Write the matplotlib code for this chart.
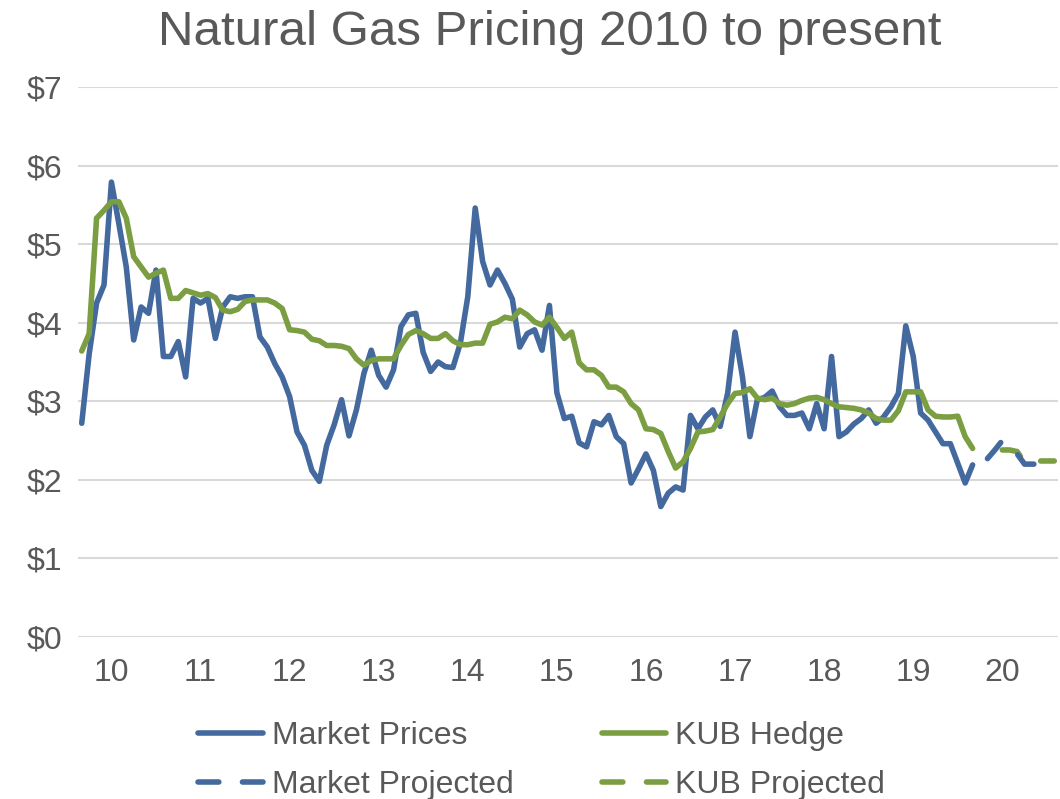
import numpy as np
import matplotlib
matplotlib.use('Agg')
import matplotlib.pyplot as plt
import pandas as pd

plt.rcParams['font.family'] = ['Liberation Sans', 'DejaVu Sans']
plt.rcParams['lines.scale_dashes'] = False

# monthly prices, $/Dth, Sep 2009 - Sep 2019
market_prices = [
    2.72, 3.60, 4.25, 4.48, 5.79, 5.26, 4.71, 3.78, 4.20, 4.12, 4.67, 3.57,
    3.57, 3.76, 3.31, 4.31, 4.25, 4.31, 3.80, 4.20, 4.33, 4.31, 4.33, 4.33,
    3.82, 3.69, 3.48, 3.31, 3.06, 2.61, 2.44, 2.12, 1.98, 2.44, 2.70, 3.02,
    2.56, 2.89, 3.35, 3.65, 3.33, 3.18, 3.40, 3.95, 4.10, 4.12, 3.62, 3.38,
    3.50, 3.44, 3.43, 3.74, 4.33, 5.46, 4.78, 4.48, 4.67, 4.50, 4.30, 3.69,
    3.86, 3.91, 3.65, 4.22, 3.11, 2.78, 2.81, 2.47, 2.42, 2.74, 2.70, 2.82,
    2.55, 2.46, 1.96, 2.14, 2.33, 2.12, 1.66, 1.83, 1.91, 1.87, 2.82, 2.65,
    2.80, 2.89, 2.68, 3.10, 3.88, 3.31, 2.55, 3.02, 3.05, 3.13, 2.93, 2.82,
    2.82, 2.85, 2.65, 2.97, 2.65, 3.57, 2.55, 2.61, 2.71, 2.78, 2.89, 2.72,
    2.80, 2.93, 3.10, 3.96, 3.57, 2.85, 2.76, 2.61, 2.46, 2.46, 2.21, 1.96,
    2.19,
]
kub_hedge = [
    3.64, 3.86, 5.33, 5.43, 5.54, 5.54, 5.33, 4.84, 4.71, 4.58, 4.63, 4.67,
    4.31, 4.31, 4.41, 4.38, 4.35, 4.37, 4.32, 4.16, 4.14, 4.17, 4.27, 4.29,
    4.29, 4.29, 4.25, 4.18, 3.91, 3.90, 3.88, 3.79, 3.77, 3.71, 3.71, 3.70,
    3.67, 3.54, 3.46, 3.52, 3.54, 3.54, 3.54, 3.71, 3.85, 3.90, 3.86, 3.80,
    3.80, 3.86, 3.77, 3.72, 3.72, 3.74, 3.74, 3.98, 4.01, 4.07, 4.05, 4.16,
    4.10, 4.01, 3.97, 4.07, 3.94, 3.80, 3.88, 3.49, 3.40, 3.40, 3.33, 3.18,
    3.18, 3.12, 2.97, 2.89, 2.65, 2.64, 2.59, 2.36, 2.15, 2.23, 2.40, 2.61,
    2.62, 2.64, 2.80, 2.97, 3.10, 3.11, 3.16, 3.04, 3.02, 3.04, 2.97, 2.95,
    2.97, 3.01, 3.04, 3.05, 3.02, 2.97, 2.93, 2.92, 2.91, 2.89, 2.85, 2.78,
    2.76, 2.76, 2.88, 3.12, 3.12, 3.12, 2.89, 2.81, 2.80, 2.80, 2.81, 2.55,
    2.40,
]
# projections
market_projected = [2.27, 2.38, 2.50, 2.42, 2.33, 2.20, 2.20, 2.20]   # from Nov 2019
kub_projected = [2.38, 2.38, 2.36, 2.22, 2.23, 2.24, 2.24, 2.24]      # from Jan 2020

first_month = '2009-09'
market_proj_from = '2019-11'
kub_proj_from = '2020-01'
n_months = 132

months = pd.period_range(first_month, periods=n_months, freq='M')
x_all = np.arange(n_months)
pm = (pd.Period(market_proj_from, 'M') - pd.Period(first_month, 'M')).n
pk = (pd.Period(kub_proj_from, 'M') - pd.Period(first_month, 'M')).n

blue = '#44699E'
green = '#7A9E41'
grey = '#595959'

fig = plt.figure(figsize=(10.6, 7.99), dpi=100)
ax = fig.add_axes([0.0736, 0.2028, 0.9245, 0.6883])

lw = 4.0
dash = (0, (15, 17))
h1, = ax.plot(x_all[:len(market_prices)], market_prices, color=blue, lw=lw,
              solid_joinstyle='round', solid_capstyle='round', zorder=3, label='Market Prices')
h2, = ax.plot(x_all[:len(kub_hedge)], kub_hedge, color=green, lw=lw,
              solid_joinstyle='round', solid_capstyle='round', zorder=4, label='KUB Hedge')
h4, = ax.plot(x_all[pk:pk + len(kub_projected)], kub_projected, color=green, lw=lw,
              linestyle=dash, dash_capstyle='round', zorder=5, label='KUB Projected')
h3, = ax.plot(x_all[pm:pm + len(market_projected)], market_projected, color=blue, lw=lw,
              linestyle=dash, dash_capstyle='round', zorder=6, label='Market Projected')

ax.set_xlim(-0.5, n_months - 0.5)
ax.set_ylim(0, 7)
ax.set_yticks(range(0, 8))
ax.set_yticklabels([f'${v}' for v in range(0, 8)])
jan = [i for i, m in enumerate(months) if m.month == 1]
ax.set_xticks(jan)
ax.set_xticklabels([f'{months[i].year % 100:02d}' for i in jan])

ax.grid(axis='y', color='#D9D9D9', lw=1.5)
ax.set_axisbelow(True)
for s in ax.spines.values():
    s.set_visible(False)
ax.tick_params(axis='both', length=0, labelsize=23, labelcolor=grey)
ax.tick_params(axis='y', pad=11.5)
ax.tick_params(axis='x', pad=15)

fig.suptitle('Natural Gas Pricing 2010 to present', fontsize=35.5, color=grey,
             x=0.519, y=0.988)

fig.legend(handles=[h1, h3, h2, h4], loc='center', bbox_to_anchor=(0.511, 0.048),
           ncol=2, frameon=False, fontsize=23, labelcolor=grey, handlelength=2.03,
           columnspacing=2.75, handletextpad=0.28, labelspacing=0.6)

fig.savefig('out.png', dpi=100)
